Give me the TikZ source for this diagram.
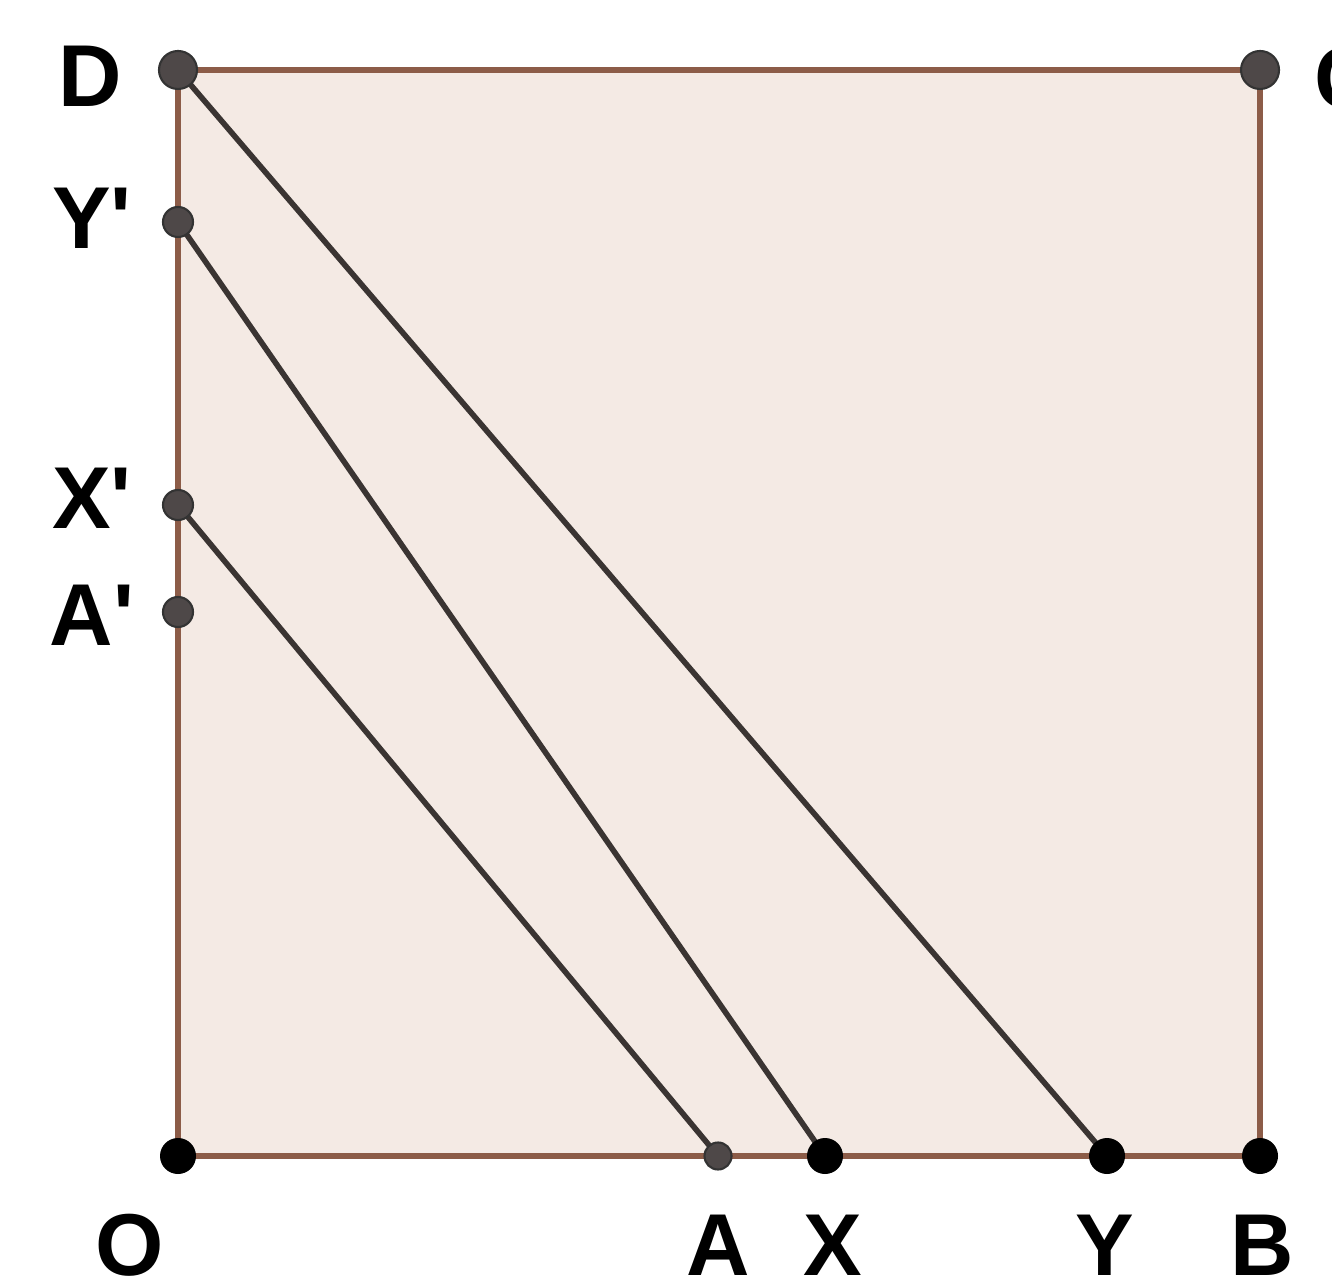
\documentclass[tikz,border=0pt]{standalone}
\usepackage{fontspec}
\setmainfont{Liberation Sans}
\usepackage{tikz}
\usetikzlibrary{positioning,calc}

\definecolor{edgebrown}{RGB}{140,92,72}
\definecolor{squarefill}{RGB}{244,234,228}
\definecolor{chordgray}{RGB}{58,52,50}
\definecolor{dotgray}{RGB}{78,72,72}

\begin{document}
\begin{tikzpicture}[
  side/.style={draw=edgebrown, line width=1.8pt},
  chord/.style={draw=chordgray, line width=1.6pt},
  ptgray/.style={circle, fill=dotgray, draw=black!80, line width=0.6pt,
    inner sep=0pt, minimum size=#1},
  ptblack/.style={circle, fill=black, inner sep=0pt, minimum size=#1},
  lbl/.style={font=\fontsize{25}{25}\selectfont\bfseries, inner sep=0pt}]
  \useasboundingbox (0,0) rectangle (13.32,12.76);
  \fill[white] (0,0) rectangle (13.32,12.76);
  % corner and side points
  \coordinate (O) at (1.78,1.20);
  \coordinate (B) at (12.60,1.20);
  \coordinate (C) at (12.60,12.06);
  \coordinate (D) at (1.78,12.06);
  \coordinate (Yp) at (1.78,10.54);
  \coordinate (Xp) at (1.78,7.71);
  \coordinate (Ap) at (1.78,6.64);
  \coordinate (A) at (7.18,1.20);
  \coordinate (X) at (8.25,1.20);
  \coordinate (Y) at (11.07,1.20);
  % square
  \fill[squarefill] (O) rectangle (C);
  \draw[side] (O) -- (B) -- (C) -- (D) -- cycle;
  % chords
  \draw[chord] (D) -- (Y);
  \draw[chord] (Yp) -- (X);
  \draw[chord] (Xp) -- (A);
  % dots
  \node[ptgray=0.38cm] (dD) at (D) {};
  \node[ptgray=0.38cm] (dC) at (C) {};
  \node[ptgray=0.30cm] (dYp) at (Yp) {};
  \node[ptgray=0.30cm] (dXp) at (Xp) {};
  \node[ptgray=0.30cm] (dAp) at (Ap) {};
  \node[ptgray=0.27cm] (dA) at (A) {};
  \node[ptblack=0.36cm] (dO) at (O) {};
  \node[ptblack=0.36cm] (dX) at (X) {};
  \node[ptblack=0.36cm] (dY) at (Y) {};
  \node[ptblack=0.36cm] (dB) at (B) {};
  % labels
  \node[lbl] (lD) at (0.90,12.00) {D};
  \node[lbl] (lC) at (13.46,11.98) {C};
  \node[lbl] (lYp) at (0.92,10.58) {Y\textquotesingle};
  \node[lbl] (lXp) at (0.92,7.78) {X\textquotesingle};
  \node[lbl] (lAp) at (0.92,6.61) {A\textquotesingle};
  \node[lbl] (lO) at (1.30,0.31) {O};
  \node[lbl] (lA) at (7.18,0.31) {A};
  \node[lbl] (lX) at (8.33,0.31) {X};
  \node[lbl] (lY) at (11.05,0.31) {Y};
  \node[lbl] (lB) at (12.62,0.31) {B};
\end{tikzpicture}
\end{document}
